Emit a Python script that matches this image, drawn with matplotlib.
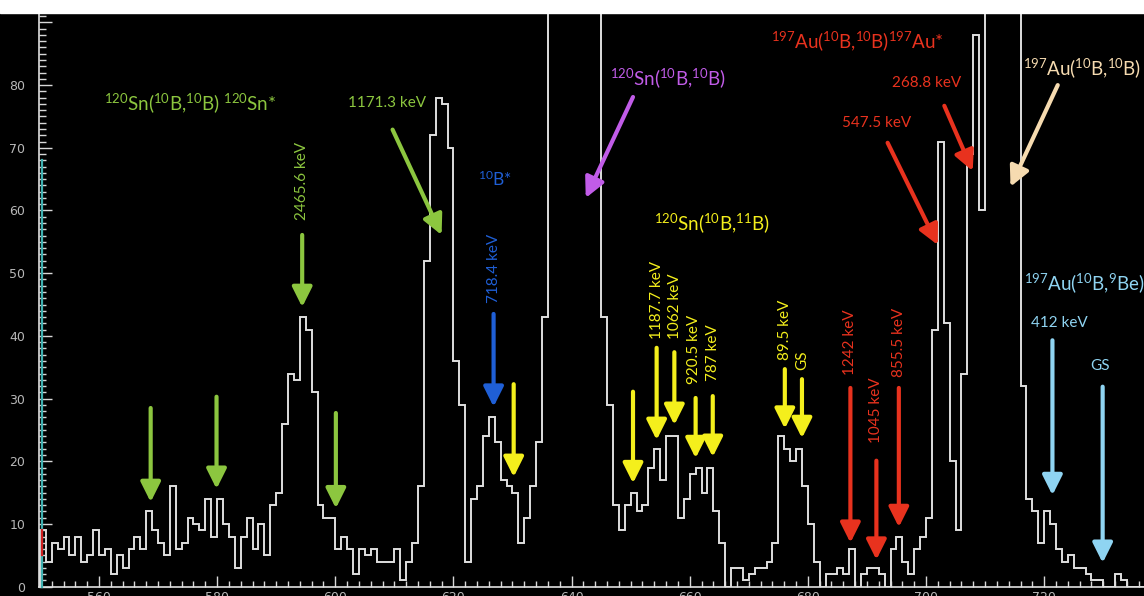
import numpy as np
import matplotlib
matplotlib.use('Agg')
import matplotlib.pyplot as plt
from matplotlib.ticker import MultipleLocator
from matplotlib.patches import Rectangle

plt.rcParams['font.family'] = ['Lato', 'DejaVu Sans']
plt.rcParams['mathtext.fontset'] = 'custom'
plt.rcParams['mathtext.rm'] = 'Lato'
plt.rcParams['mathtext.it'] = 'Lato:italic'
plt.rcParams['mathtext.bf'] = 'Lato:bold'

# channel spectrum, one count per channel starting at first_channel
first_channel = 550
counts = [
    9, 4, 7, 6, 8, 5, 8, 4, 5, 9,            # 550
    5, 6, 2, 5, 3, 6, 8, 6, 12, 9,           # 560
    7, 5, 16, 6, 7, 11, 10, 9, 14, 8,        # 570
    14, 10, 8, 3, 8, 11, 6, 10, 5, 13,       # 580
    15, 26, 34, 33, 43, 41, 31, 13, 11, 11,  # 590
    6, 8, 6, 2, 6, 5, 6, 4, 4, 4,            # 600
    6, 1, 4, 7, 16, 52, 72, 78, 77, 70,      # 610
    36, 29, 4, 14, 16, 24, 27, 23, 17, 16,   # 620
    15, 7, 11, 16, 23, 43, 140, 260, 420, 510,  # 630
    480, 350, 230, 150, 105, 43, 29, 13, 9, 13,  # 640
    15, 12, 13, 19, 22, 17, 24, 24, 11, 14,  # 650
    18, 19, 15, 19, 12, 7, 0, 3, 3, 1,       # 660
    2, 3, 3, 4, 7, 24, 22, 20, 22, 16,       # 670
    10, 4, 0, 2, 2, 3, 2, 6, 0, 2,           # 680
    3, 3, 2, 0, 6, 8, 4, 2, 6, 8,            # 690
    11, 41, 71, 42, 20, 9, 34, 69, 88, 60,   # 700
    180, 350, 460, 390, 250, 130, 32, 14, 12, 7,  # 710
    12, 10, 6, 4, 5, 3, 3, 2, 1, 1,          # 720
    0, 0, 2, 1, 0, 0, 0,                     # 730
]
edges = first_channel + np.arange(len(counts) + 1)
y_ticks = [0, 10, 20, 30, 40, 50, 60, 70, 80, 90]
y_tick_labels = ['0', '10', '20', '30', '40', '50', '60', '70', '80', '']

green = '#8cc63f'
yellow = '#f4ef1c'
blue = '#1f5fd6'
violet = '#c15ce8'
red = '#e8321e'
tan = '#f6dbb0'
sky = '#8fd4f2'

fig = plt.figure(figsize=(11.44, 5.96), dpi=100, facecolor='black')
ax = fig.add_axes([0.0341, 0.0156, 0.9659, 0.9626], facecolor='black')
fig.patches.append(Rectangle((0, 0.978), 1, 0.03, transform=fig.transFigure,
                             color='white', zorder=10))

ax.stairs(counts, edges, color='#dedede', lw=1.4, zorder=3)

ax.set_xlim(549.85, 736.9)
ax.set_ylim(0, 91.5)
ax.xaxis.set_major_locator(MultipleLocator(20))
ax.xaxis.set_minor_locator(MultipleLocator(2))
ax.set_yticks(y_ticks, labels=y_tick_labels)
ax.yaxis.set_minor_locator(MultipleLocator(1))
ax.tick_params(which='both', direction='in', colors='#d8d8d8', labelcolor='#b8b8b8',
               labelsize=9, width=1)
ax.tick_params(axis='x', which='major', length=8, pad=3)
ax.tick_params(axis='x', which='minor', length=4)
ax.tick_params(axis='y', which='major', length=9, pad=10)
ax.tick_params(axis='y', which='minor', length=5)
for lab in ax.get_xticklabels() + ax.get_yticklabels():
    lab.set_family('DejaVu Sans')
for side in ('top', 'right'):
    ax.spines[side].set_visible(False)
for side in ('left', 'bottom'):
    ax.spines[side].set_color('#e0e0e0')
    ax.spines[side].set_linewidth(1.2)

# marker strips along the y axis
ax.plot([550.3, 550.3], [0, 68], color='#3fb0b0', lw=1.6, zorder=4, clip_on=False)
ax.plot([550.3, 550.3], [5, 9], color='#d02020', lw=1.6, zorder=5, clip_on=False)


def arrow(x0, y0, x1, y1, color):
    ax.annotate('', xy=(x1, y1), xytext=(x0, y0), zorder=6,
                arrowprops=dict(arrowstyle='-|>,head_length=0.6,head_width=0.3',
                                color=color, lw=3.0, shrinkA=0, shrinkB=0,
                                mutation_scale=20))


def label(x, y, s, color, size=11, rot=0):
    ax.text(x, y, s, color=color, fontsize=size, rotation=rot,
            ha='center', va='center', zorder=7)


title_size = 13.5

# 120Sn inelastic
label(575.4, 77.1, r'$^{120}$Sn($^{10}$B,$^{10}$B) $^{120}$Sn*', green, title_size)
label(608.7, 77.2, '1171.3 keV', green, 11)
arrow(609.7, 72.9, 618.0, 56.1, green)
label(594.3, 64.7, '2465.6 keV', green, 11, 90)
arrow(594.4, 56.1, 594.4, 44.6, green)
arrow(568.75, 28.5, 568.75, 13.5, green)
arrow(579.9, 30.3, 579.9, 15.6, green)
arrow(600.1, 27.7, 600.1, 12.5, green)

# 10B excitation
label(627.0, 64.9, r'$^{10}$B*', blue, 12.5)
label(626.8, 50.8, '718.4 keV', blue, 11, 90)
arrow(626.8, 43.5, 626.8, 28.7, blue)

# 120Sn elastic
label(656.3, 81.1, r'$^{120}$Sn($^{10}$B,$^{10}$B)', violet, title_size)
arrow(650.4, 78.1, 642.4, 62.0, violet)

# 120Sn(10B,11B) transfer
label(663.7, 58.0, r'$^{120}$Sn($^{10}$B,$^{11}$B)', yellow, title_size)
arrow(630.2, 32.3, 630.2, 17.5, yellow)
arrow(650.4, 31.1, 650.4, 16.5, yellow)
label(654.4, 45.7, '1187.7 keV', yellow, 11, 90)
arrow(654.4, 38.1, 654.4, 23.4, yellow)
label(657.5, 44.8, '1062 keV', yellow, 11, 90)
arrow(657.4, 37.4, 657.4, 25.8, yellow)
label(660.8, 37.8, '920.5 keV', yellow, 11, 90)
arrow(661.0, 30.1, 661.0, 20.5, yellow)
label(663.9, 37.4, '787 keV', yellow, 11, 90)
arrow(663.9, 30.4, 663.9, 20.7, yellow)
label(676.1, 40.9, '89.5 keV', yellow, 11, 90)
arrow(676.1, 34.7, 676.1, 25.2, yellow)
label(679.0, 36.1, 'GS', yellow, 11, 90)
arrow(679.0, 33.1, 679.0, 23.7, yellow)

# 197Au inelastic
label(688.4, 87.0, r'$^{197}$Au($^{10}$B,$^{10}$B)$^{197}$Au*', red, title_size)
label(700.1, 80.3, '268.8 keV', red, 11)
arrow(703.1, 76.7, 707.9, 66.3, red)
label(691.6, 73.9, '547.5 keV', red, 11)
arrow(693.5, 70.8, 702.0, 54.5, red)
label(687.1, 39.0, '1242 keV', red, 11, 90)
arrow(687.2, 31.7, 687.2, 7.0, red)
label(691.6, 28.2, '1045 keV', red, 11, 90)
arrow(691.6, 20.1, 691.6, 4.3, red)
label(695.5, 39.0, '855.5 keV', red, 11, 90)
arrow(695.4, 31.7, 695.4, 9.5, red)

# 197Au elastic
label(726.5, 82.7, r'$^{197}$Au($^{10}$B,$^{10}$B)', tan, title_size)
arrow(722.3, 80.0, 714.3, 63.8, tan)

# 197Au(10B,9Be)
label(726.8, 48.4, r'$^{197}$Au($^{10}$B,$^{9}$Be)', sky, title_size)
label(722.6, 42.1, '412 keV', sky, 11)
arrow(721.4, 39.3, 721.4, 14.6, sky)
label(729.4, 35.2, 'GS', sky, 11)
arrow(729.9, 31.9, 729.9, 3.8, sky)

fig.savefig('out.png', dpi=100, facecolor='black')
